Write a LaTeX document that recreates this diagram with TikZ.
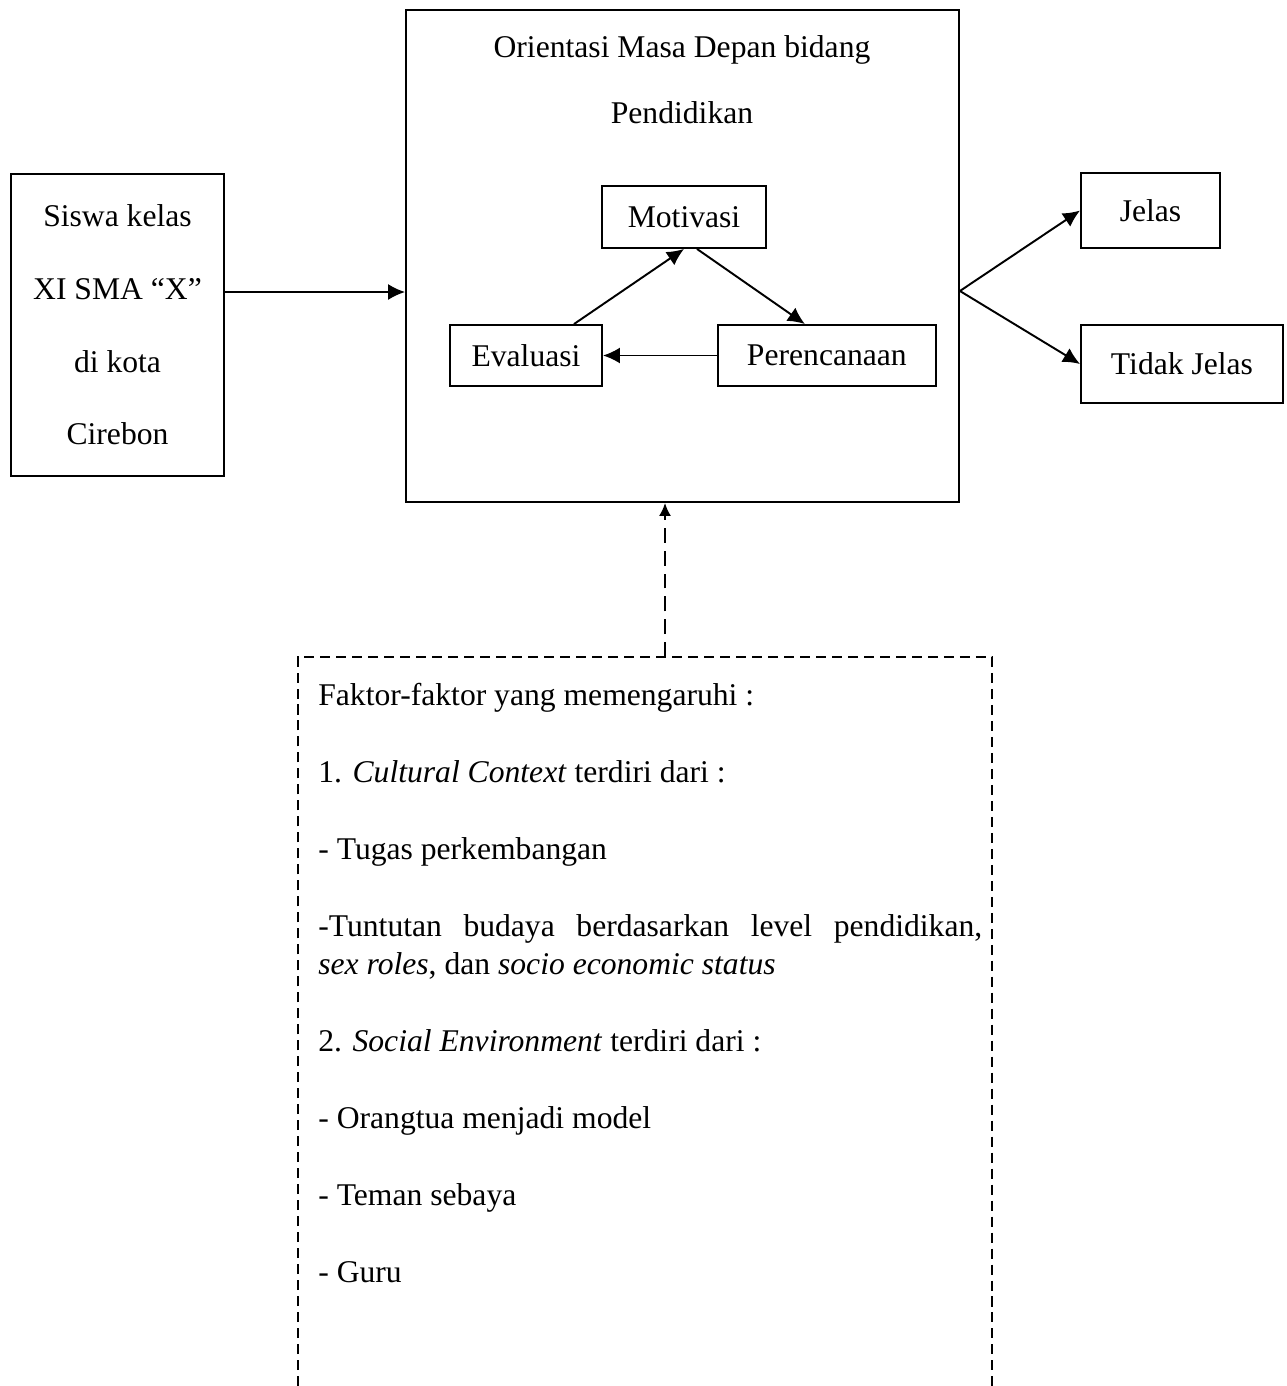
\documentclass[tikz,border=0pt]{standalone}
\usepackage{fontspec}
\setmainfont{Liberation Serif}
\tikzstyle{box}=[rectangle,draw=black,line width=1.1pt,inner sep=0pt,
font=\fontsize{18}{21.6}\selectfont]
\tikzstyle{plain}=[inner sep=0pt,font=\fontsize{18}{21.6}\selectfont]
\tikzstyle{arr}=[line width=1.1pt,-{Latex[length=3.4mm,width=3.2mm]}]
\tikzstyle{darr}=[line width=1.1pt,dash pattern=on 8.5pt off 4.5pt,
-{Latex[length=2.6mm,width=2.4mm]}]
\tikzstyle{dbox}=[line width=0.9pt,dash pattern=on 5.7pt off 3.4pt]
\usetikzlibrary{arrows.meta,positioning}

\begin{document}
\begin{tikzpicture}[x=0.02cm,y=-0.02cm]
            \useasboundingbox (0,0) rectangle (1286,1386);

            % INPUT PART

            \node[box,minimum width=4.26cm,minimum height=6.04cm,align=center,
                  font=\fontsize{18}{41.4}\selectfont] (siswa) at (117.5,325) {Siswa kelas\\XI SMA ``X''\\di kota\\Cirebon};

            % MAIN PART

            \node[box,minimum width=11.06cm,minimum height=9.84cm] (main) at (682.5,256) {};
            \node[plain,align=center,font=\fontsize{18}{37.4}\selectfont] (title) at (682,80) {Orientasi Masa Depan bidang\\Pendidikan};
            \node[box,minimum width=3.28cm,minimum height=1.24cm] (moti) at (684,217) {Motivasi};
            \node[box,minimum width=3.04cm,minimum height=1.22cm] (eval) at (526,355.5) {Evaluasi};
            \node[box,minimum width=4.36cm,minimum height=1.22cm,right=2.28cm of eval] (renc) {Perencanaan};

            \draw[arr] ([xshift=0.96cm]eval.north) -- (moti.south);
            \draw[arr] ([xshift=0.26cm]moti.south) -- ([xshift=-0.44cm]renc.north);
            \draw[arr] (renc) -- (eval);

            % OUTPUT PART

            \node[box,minimum width=2.78cm,minimum height=1.5cm] (jelas) at (1150.5,210.5) {Jelas};
            \node[box,minimum width=4.04cm,minimum height=1.56cm] (tidak) at (1182,364) {Tidak Jelas};

            \coordinate (inp) at ([yshift=0.66cm]siswa.east);
            \coordinate (outp) at ([yshift=-0.7cm]main.east);
            \draw[arr] (inp) -- (inp -| main.west);
            \draw[arr] (outp) -- (jelas.west);
            \draw[arr] (outp) -- (tidak.west);

            % FACTORS PART

            \draw[dbox] (298,1386) -- (298,657) -- (992,657) -- (992,1386);
            \coordinate (ftop) at (665,657);
            \node[plain,anchor=north west,text width=13.28cm,align=justify] (faktor) at (318,683) {%
            Faktor-faktor yang memengaruhi :\\[22.2pt]
            1. \textit{Cultural Context} terdiri dari :\\[22.2pt]
            - Tugas perkembangan\\[22.2pt]
            -Tuntutan budaya berdasarkan level pendidikan,\linebreak
            \textit{sex roles}, dan \textit{socio economic status}\\[22.2pt]
            2. \textit{Social Environment} terdiri dari :\\[22.2pt]
            - Orangtua menjadi model\\[22.2pt]
            - Teman sebaya\\[22.2pt]
            - Guru};

            \draw[darr] (ftop) -- (main.south -| ftop);

\end{tikzpicture}
\end{document}
